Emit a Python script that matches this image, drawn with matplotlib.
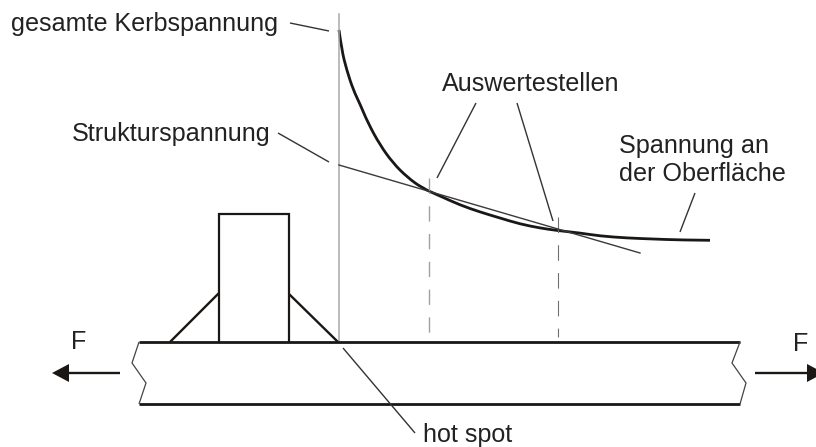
import matplotlib
matplotlib.use("Agg")
import matplotlib.pyplot as plt
from matplotlib.path import Path
from matplotlib.patches import PathPatch

plt.rcParams['font.family'] = ['Liberation Sans', 'DejaVu Sans']

curve_x = [339, 341.7, 346.7, 353.3, 360, 368, 380, 393, 407, 422, 440, 460, 480, 500, 520, 540, 557, 580, 600, 627, 653, 680, 710]
curve_y = [30, 50, 70, 90, 104, 123, 145, 163, 177, 188, 196, 205, 212, 218, 224, 228, 230.5, 233, 236, 238, 239, 240, 240.3]
struct_x = [339, 640]
struct_y = [165, 253]

plate_top = [[139, 342], [740, 342]]
plate_bottom = [[139, 404], [740, 404]]
break_left = [[139, 342], [132, 363], [146, 383], [139, 404]]
break_right = [[740, 342], [732, 363], [746, 383], [740, 404]]
box = [[219, 342], [219, 214], [289, 214], [289, 342]]
gusset_left = [[170, 342], [219, 293]]
gusset_right = [[289, 294], [338, 342]]

vline_x = 339
vline_y = [14, 342]
dash_1_x = 428.5
dash_1_y = [178, 342]
dash_2_x = 557.5
dash_2_y = [217, 337]

leaders = [
    [[290, 23], [329, 31]],
    [[278, 133], [329, 162]],
    [[476, 103], [437, 178]],
    [[517, 103], [553, 221]],
    [[695, 193], [680, 232]],
    [[343, 348], [415, 433]],
]

labels = [
    (11, 31, "gesamte Kerbspannung", "left"),
    (72, 141, "Strukturspannung", "left"),
    (442, 91, "Auswertestellen", "left"),
    (619, 153, "Spannung an", "left"),
    (619, 181, "der Oberfläche", "left"),
    (423, 442, "hot spot", "left"),
    (79, 349, "F", "center"),
    (801, 351, "F", "center"),
]

arrow_left_line = [[69, 373], [120, 373]]
arrow_left_head = [[52, 373], [69, 364], [69, 382]]
arrow_right_line = [[755, 373], [808, 373]]
arrow_right_head = [[824, 373], [807, 364], [807, 382]]

BLACK = "#1a1715"

fig = plt.figure(figsize=(8.16, 4.47), dpi=100)
ax = fig.add_axes([0, 0, 1, 1])
ax.set_xlim(0, 816)
ax.set_ylim(447, 0)
ax.axis("off")


def poly(points, lw, color=BLACK, **kw):
    ax.plot([p[0] for p in points], [p[1] for p in points], color=color, lw=lw,
            solid_joinstyle="miter", solid_capstyle="butt", **kw)


# Hilfslinien
ax.plot([vline_x, vline_x], vline_y, color="#a8a8a8", lw=1.1)
ax.plot([dash_1_x, dash_1_x], dash_1_y, color="#a0a0a0", lw=1.0, dashes=(11, 9))
ax.plot([dash_2_x, dash_2_x], dash_2_y, color="#707070", lw=0.8, dashes=(14, 11))

# Spannungsverlauf, die Ablesepunkte als Kontrollpunkte einer glatten Kurve
ax.plot(struct_x, struct_y, color="#3a3a3a", lw=1.0)
verts = [(curve_x[0], curve_y[0])]
codes = [Path.MOVETO]
for i in range(1, len(curve_x) - 1):
    verts.append((curve_x[i], curve_y[i]))
    codes.append(Path.CURVE3)
    if i < len(curve_x) - 2:
        verts.append(((curve_x[i] + curve_x[i + 1]) / 2, (curve_y[i] + curve_y[i + 1]) / 2))
    else:
        verts.append((curve_x[-1], curve_y[-1]))
    codes.append(Path.CURVE3)
ax.add_patch(PathPatch(Path(verts, codes), fill=False, edgecolor=BLACK, lw=2.0, capstyle="butt"))

# Blech und Steife
poly(plate_top, 2.0)
poly(plate_bottom, 2.0)
poly(break_left, 0.9, color="#444444")
poly(break_right, 0.9, color="#444444")
poly(box, 1.6)
poly(gusset_left, 1.7)
poly(gusset_right, 1.7)

for seg in leaders:
    poly(seg, 1.0, color="#333333")

# Kraftpfeile
poly(arrow_left_line, 1.7)
poly(arrow_right_line, 1.7)
ax.fill([p[0] for p in arrow_left_head], [p[1] for p in arrow_left_head], color=BLACK, lw=0)
ax.fill([p[0] for p in arrow_right_head], [p[1] for p in arrow_right_head], color=BLACK, lw=0)

for x, y, s, ha in labels:
    ax.text(x, y, s, ha=ha, va="baseline", fontsize=18.1, color="#222222")

fig.savefig("out.png", dpi=100)
